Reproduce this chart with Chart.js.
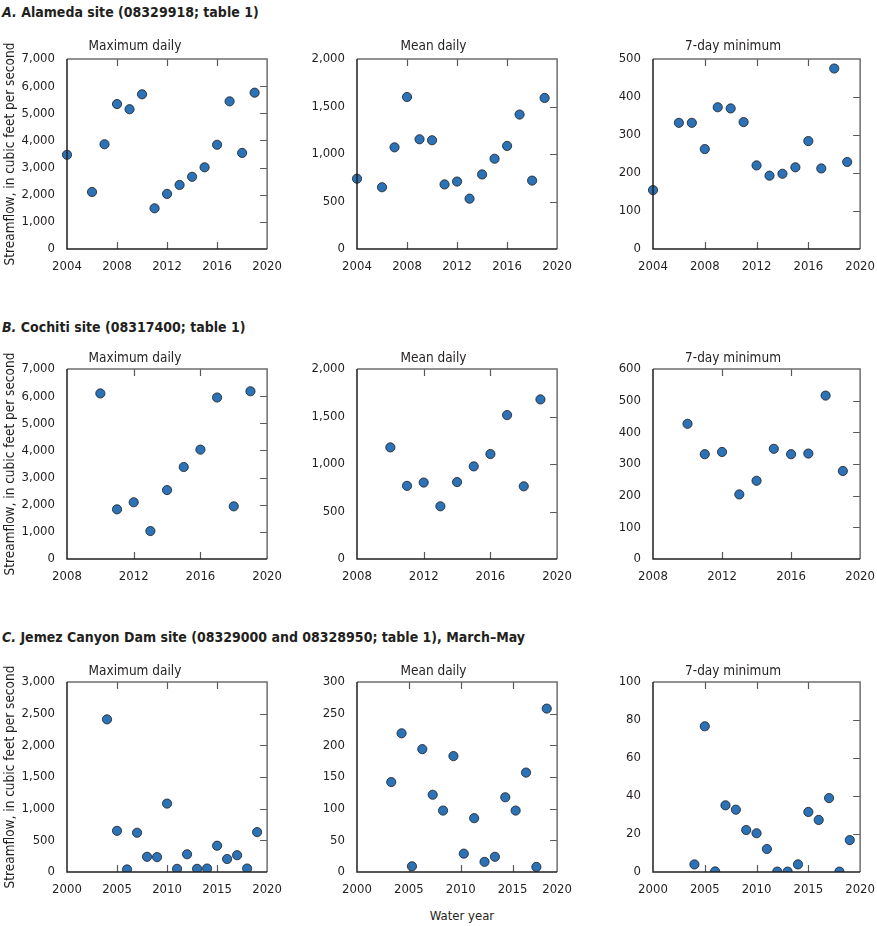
<!DOCTYPE html>
<html>
<head>
<meta charset="utf-8">
<title>Streamflow statistics by water year</title>
<script src="https://cdn.jsdelivr.net/npm/chart.js@4.4.0/dist/chart.umd.min.js"></script>
<style>
  html, body { margin: 0; padding: 0; background: #fff; overflow: hidden; }
  body {
    width: 877px; height: 926px; position: relative;
    font-family: "Liberation Sans Narrow", "DejaVu Sans Condensed", "Arial Narrow", sans-serif;
    color: #231f20;
  }
  .section { position: absolute; left: 2px; font-size: 14px; font-weight: bold; line-height: 16px; white-space: nowrap; }
  canvas { position: absolute; }
  #water-year { position: absolute; left: 412px; top: 908px; width: 100px; text-align: center; font-size: 13px; line-height: 16px; }
</style>
</head>
<body>
<div class="section" style="top:4px"><i>A.</i> Alameda site (08329918; table 1)</div>
<div class="section" style="top:319px"><i>B.</i> Cochiti site (08317400; table 1)</div>
<div class="section" style="top:629px"><i>C.</i> Jemez Canyon Dam site (08329000 and 08328950; table 1), March–May</div>
<div id="water-year">Water year</div>

<script>
// ------------------- Data ------------------
const alamedaYears = [2004, 2006, 2007, 2008, 2009, 2010, 2011, 2012, 2013, 2014, 2015, 2016, 2017, 2018, 2019];
const alamedaMaxDaily = [3470, 2100, 3860, 5340, 5150, 5700, 1500, 2030, 2360, 2660, 3010, 3840, 5440, 3540, 5760];
const alamedaMeanDaily = [740, 650, 1070, 1600, 1155, 1145, 680, 710, 530, 785, 950, 1085, 1415, 720, 1590];
const alamedaMin7Day = [155, 332, 332, 263, 373, 370, 334, 220, 193, 198, 215, 284, 212, 475, 229];

const cochitiYears = [2010, 2011, 2012, 2013, 2014, 2015, 2016, 2017, 2018, 2019];
const cochitiMaxDaily = [6100, 1830, 2090, 1030, 2540, 3390, 4030, 5950, 1940, 6180];
const cochitiMeanDaily = [1175, 770, 805, 555, 810, 975, 1105, 1515, 765, 1680];
const cochitiMin7Day = [427, 331, 338, 204, 247, 348, 331, 333, 516, 278];

const jemezYears = [2004, 2005, 2006, 2007, 2008, 2009, 2010, 2011, 2012, 2013, 2014, 2015, 2016, 2017, 2018, 2019];
const jemezMaxDaily = [2410, 650, 40, 620, 240, 235, 1080, 50, 280, 50, 55, 415, 205, 265, 55, 630];
const jemezMin7Day = [4.0, 76.7, 0.3, 35.1, 32.8, 22.1, 20.4, 12.1, 0.2, 0.2, 4.0, 31.6, 27.4, 38.9, 0.2, 16.8];
// the mean daily panel sits shifted left in the source figure, so use the plotted positions
const jemezMeanDailyX = [2003.3, 2004.3, 2005.3, 2006.3, 2007.3, 2008.3, 2009.3, 2010.3, 2011.3, 2012.3, 2013.3, 2014.3, 2015.3, 2016.3, 2017.3, 2018.3];
const jemezMeanDaily = [142, 219, 9, 194, 122, 97, 183, 29, 85, 16, 24, 118, 97, 157, 8, 258];

// ------------------- Tick values ------------------
const alamedaYearTicks = [2004, 2008, 2012, 2016, 2020];
const alamedaYearLabels = ['2004', '2008', '2012', '2016', '2020'];
const cochitiYearTicks = [2008, 2012, 2016, 2020];
const cochitiYearLabels = ['2008', '2012', '2016', '2020'];
const jemezYearTicks = [2000, 2005, 2010, 2015, 2020];
const jemezMeanYearTicks = [2000, 2005, 2010, 2015, 2019.3]; // that axis stops short of 2020
const jemezYearLabels = ['2000', '2005', '2010', '2015', '2020'];

const maxDailyTicks = [0, 1000, 2000, 3000, 4000, 5000, 6000, 7000];
const meanDailyTicks = [0, 500, 1000, 1500, 2000];
const alamedaMinTicks = [0, 100, 200, 300, 400, 500];
const cochitiMinTicks = [0, 100, 200, 300, 400, 500, 600];
const jemezMaxTicks = [0, 500, 1000, 1500, 2000, 2500, 3000];
const jemezMeanTicks = [0, 50, 100, 150, 200, 250, 300];
const jemezMinTicks = [0, 20, 40, 60, 80, 100];

// ------------------- Layout ------------------
const FONT = '"Liberation Sans Narrow", "DejaVu Sans Condensed", "Arial Narrow", sans-serif';
const INK = '#231f20';
const DOT = '#2c72b7';
const colLeft = [67, 357, 653];
const colWidth = [203, 203, 210];
const rowTop = [59, 369, 682];
const PLOT_H = 190;
const PAD_T = 24;
const PAD_B = 26;
const PAD_R = 14;

// inward tick marks and the frame round the plot
const frameTicks = {
    id: 'frameTicks',
    afterDatasetsDraw(chart) {
        const { ctx, chartArea: a, scales: { x, y } } = chart;
        const len = 7;
        ctx.save();
        ctx.lineWidth = 1.2;
        ctx.strokeStyle = '#58595b';
        ctx.beginPath();
        x.ticks.forEach(t => {
            const px = Math.round(x.getPixelForValue(t.value)) + 0.5;
            if (px <= a.left + 2 || px >= a.right - 2) return;
            ctx.moveTo(px, a.top); ctx.lineTo(px, a.top + len);
            ctx.moveTo(px, a.bottom); ctx.lineTo(px, a.bottom - len);
        });
        y.ticks.forEach(t => {
            const py = Math.round(y.getPixelForValue(t.value)) + 0.5;
            if (py <= a.top + 2 || py >= a.bottom - 2) return;
            ctx.moveTo(a.right, py); ctx.lineTo(a.right - len, py);
        });
        ctx.stroke();
        ctx.lineWidth = 1.5;
        ctx.strokeStyle = '#6d6e71';
        ctx.beginPath();
        ctx.moveTo(a.left, a.top); ctx.lineTo(a.right, a.top); ctx.lineTo(a.right, a.bottom);
        ctx.stroke();
        ctx.strokeStyle = INK;
        ctx.beginPath();
        ctx.moveTo(a.left, a.top); ctx.lineTo(a.left, a.bottom); ctx.lineTo(a.right, a.bottom);
        ctx.stroke();
        ctx.restore();
    }
};

function scatterPanel(col, row, title, xs, ys, xTicks, xLabels, yTicks) {
    const padL = col === 0 ? 67 : 50;
    const canvas = document.createElement('canvas');
    canvas.width = padL + colWidth[col] + PAD_R;
    canvas.height = PAD_T + PLOT_H + PAD_B;
    canvas.style.left = (colLeft[col] - padL) + 'px';
    canvas.style.top = (rowTop[row] - PAD_T) + 'px';
    document.body.appendChild(canvas);

    const titleTop = row === 0 ? 2.9 : 4.9;
    const tickFont = { family: FONT, size: 13 };

    // ------------------- Chart Data ------------------
    const data = {
        datasets: [{
            data: xs.map((x, i) => ({ x: x, y: ys[i] })),
            backgroundColor: DOT,
            borderColor: '#1d1d1f',
            borderWidth: 0.8,
            pointRadius: 4.6,
            pointHoverRadius: 4.6,
            clip: { left: false, top: false, right: false, bottom: 0 }
        }]
    };

    // ------------------- Chart Options ------------------
    const chartOptions = {
        responsive: false,
        animation: false,
        events: [],
        layout: { padding: { left: 0, right: PAD_R, top: 0, bottom: 0 } },
        plugins: {
            legend: { display: false },
            tooltip: { enabled: false },
            title: {
                display: true,
                text: title,
                color: INK,
                font: { family: FONT, size: 13.5, weight: 'normal' },
                padding: { top: titleTop, bottom: PAD_T - 16.2 - titleTop }
            }
        },
        scales: {
            x: {
                type: 'linear',
                min: xTicks[0],
                max: xTicks[xTicks.length - 1],
                grid: { display: false },
                border: { display: false },
                afterBuildTicks: s => { s.ticks = xTicks.map(v => ({ value: v })); },
                afterFit: s => { s.height = PAD_B; },
                ticks: {
                    padding: 2,
                    color: INK,
                    font: tickFont,
                    maxRotation: 0,
                    autoSkip: false,
                    callback: (v, i) => xLabels[i]
                }
            },
            y: {
                min: yTicks[0],
                max: yTicks[yTicks.length - 1],
                grid: { display: false },
                border: { display: false },
                afterBuildTicks: s => { s.ticks = yTicks.map(v => ({ value: v })); },
                afterFit: s => { s.width = padL; },
                ticks: {
                    padding: 4,
                    color: INK,
                    font: tickFont,
                    autoSkip: false,
                    callback: v => v.toLocaleString('en-US')
                },
                title: {
                    display: col === 0,
                    text: 'Streamflow, in cubic feet per second',
                    color: INK,
                    font: { family: FONT, size: 13.5 },
                    padding: { top: 2, bottom: 0 }
                }
            }
        }
    };

    // ------------------- Initialize Chart ------------------
    return new Chart(canvas, {
        type: 'scatter',
        data: data,
        options: chartOptions,
        plugins: [frameTicks]
    });
}

scatterPanel(0, 0, 'Maximum daily', alamedaYears, alamedaMaxDaily, alamedaYearTicks, alamedaYearLabels, maxDailyTicks);
scatterPanel(1, 0, 'Mean daily', alamedaYears, alamedaMeanDaily, alamedaYearTicks, alamedaYearLabels, meanDailyTicks);
scatterPanel(2, 0, '7-day minimum', alamedaYears, alamedaMin7Day, alamedaYearTicks, alamedaYearLabels, alamedaMinTicks);

scatterPanel(0, 1, 'Maximum daily', cochitiYears, cochitiMaxDaily, cochitiYearTicks, cochitiYearLabels, maxDailyTicks);
scatterPanel(1, 1, 'Mean daily', cochitiYears, cochitiMeanDaily, cochitiYearTicks, cochitiYearLabels, meanDailyTicks);
scatterPanel(2, 1, '7-day minimum', cochitiYears, cochitiMin7Day, cochitiYearTicks, cochitiYearLabels, cochitiMinTicks);

scatterPanel(0, 2, 'Maximum daily', jemezYears, jemezMaxDaily, jemezYearTicks, jemezYearLabels, jemezMaxTicks);
scatterPanel(1, 2, 'Mean daily', jemezMeanDailyX, jemezMeanDaily, jemezMeanYearTicks, jemezYearLabels, jemezMeanTicks);
scatterPanel(2, 2, '7-day minimum', jemezYears, jemezMin7Day, jemezYearTicks, jemezYearLabels, jemezMinTicks);
</script>
</body>
</html>
